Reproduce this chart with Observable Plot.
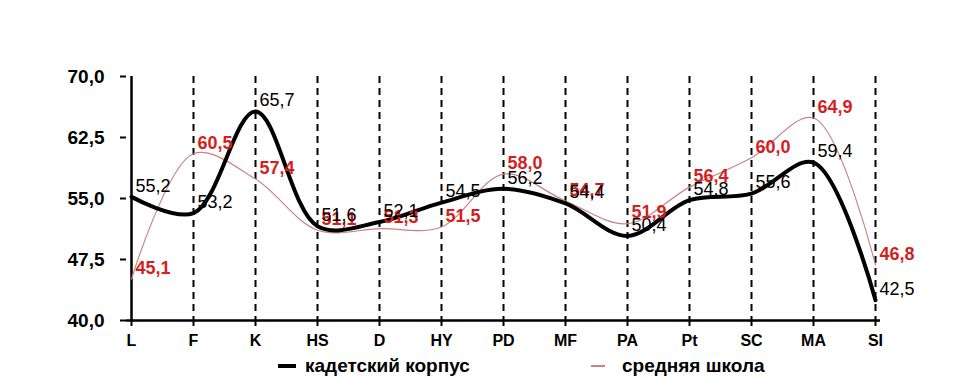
<!DOCTYPE html>
<html>
<head>
<meta charset="utf-8">
<script src="https://cdn.jsdelivr.net/npm/d3@7"></script>
<script src="https://cdn.jsdelivr.net/npm/@observablehq/plot@0.6"></script>
<style>
  body { margin: 0; background: #fff; font-family: "Liberation Sans", Arial, sans-serif; }
  #wrap { position: relative; width: 975px; height: 380px; }
  #legend { position: relative; width: 975px; height: 28px; font-weight: bold; font-size: 19px; color: #000; }
  .item { position: absolute; top: 0; height: 28px; display: flex; align-items: center; }
  .swatch { display: inline-block; margin-right: 9px; }
</style>
</head>
<body>
<div id="wrap">
  <div id="chart"></div>
  <div id="legend"></div>
</div>
<script>
const categories = ["L","F","K","HS","D","HY","PD","MF","PA","Pt","SC","MA","SI"];
const cadetValues = [55.2, 53.2, 65.7, 51.6, 52.1, 54.5, 56.2, 54.4, 50.4, 54.8, 55.6, 59.4, 42.5];
const schoolValues = [45.1, 60.5, 57.4, 51.1, 51.3, 51.5, 58.0, 54.7, 51.9, 56.4, 60.0, 64.9, 46.8];
const yTicks = [40, 47.5, 55, 62.5, 70];
const seriesNames = ["кадетский корпус", "средняя школа"];

const data = categories.map((c, i) => ({cat: c, cadet: cadetValues[i], school: schoolValues[i]}));
const fmt = d => d.toFixed(1).replace(".", ",");
const font = "'Liberation Sans', Arial, sans-serif";

const chart = Plot.plot({
  width: 975,
  height: 352,
  marginTop: 76,
  marginBottom: 32,
  marginLeft: 126,
  marginRight: 95,
  style: {fontFamily: font, color: "#000", background: "#fff"},
  x: {domain: categories, padding: 0, type: "point"},
  y: {domain: [40, 70]},
  marks: [
    Plot.ruleX(categories.slice(1), {stroke: "#000", strokeWidth: 2, strokeDasharray: "7,5"}),
    Plot.ruleX([categories[0]], {stroke: "#000", strokeWidth: 2.5}),
    Plot.ruleY([yTicks[0]], {stroke: "#000", strokeWidth: 2.5}),
    Plot.axisY({ticks: yTicks, tickFormat: fmt, tickSize: 6, tickPadding: 16, fontSize: 19, fontWeight: "bold", label: null, strokeWidth: 2}),
    Plot.axisX({tickSize: 6, tickPadding: 8, fontSize: 16, fontWeight: "bold", label: null, strokeWidth: 2}),
    Plot.line(data, {x: "cat", y: "school", curve: "catmull-rom", stroke: "#c98585", strokeWidth: 1.2}),
    Plot.line(data, {x: "cat", y: "cadet", curve: "catmull-rom", stroke: "#000", strokeWidth: 4}),
    Plot.text(data, {x: "cat", y: "school", text: d => fmt(d.school), fill: "#d51f1f", fontWeight: "bold", fontSize: 18, textAnchor: "start", dx: 4, dy: -11}),
    Plot.text(data, {x: "cat", y: "cadet", text: d => fmt(d.cadet), fill: "#000", fontSize: 18, textAnchor: "start", dx: 4, dy: -11})
  ]
});
document.getElementById("chart").appendChild(chart);

const legend = document.getElementById("legend");
legend.innerHTML = `
  <div class="item" style="left:278px"><span class="swatch" style="width:18px;height:4px;background:#000"></span>${seriesNames[0]}</div>
  <div class="item" style="left:591px"><span class="swatch" style="width:14px;height:1.2px;background:#c98585;margin-right:17px"></span>${seriesNames[1]}</div>
`;
</script>
</body>
</html>
